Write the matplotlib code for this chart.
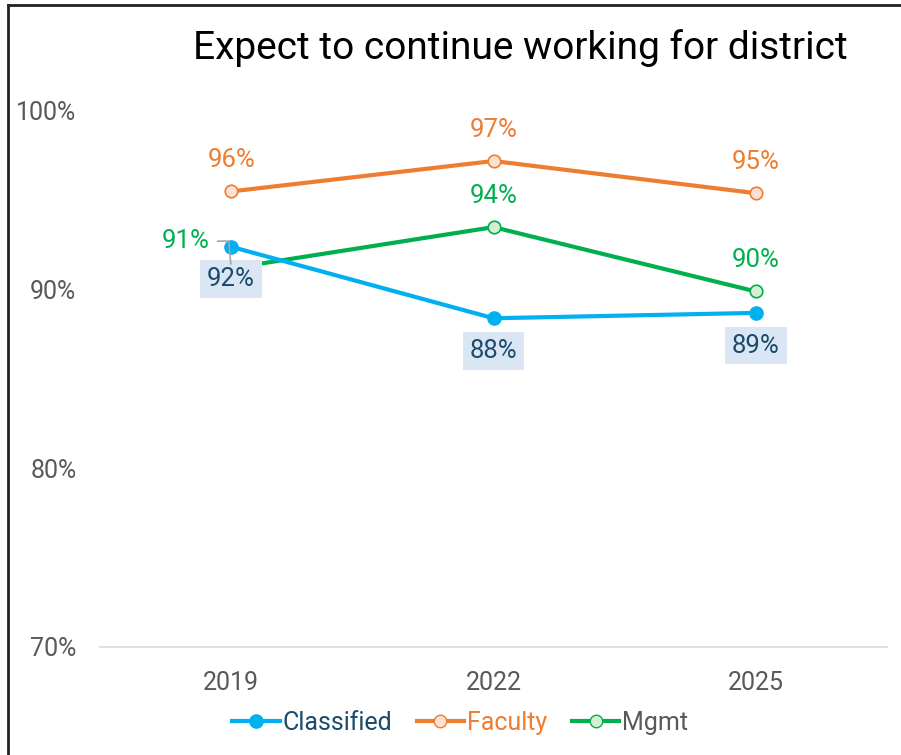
import matplotlib
matplotlib.use('Agg')
import matplotlib.pyplot as plt
from matplotlib.lines import Line2D

years = ['2019', '2022', '2025']
classified = [0.924, 0.884, 0.887]
faculty = [0.955, 0.972, 0.954]
mgmt = [0.912, 0.935, 0.899]

BLUE = '#00B0F0'
ORANGE = '#ED7D31'
GREEN = '#00B050'
DARK = '#1B4A6B'
GRAY = '#595959'

plt.rcParams['font.family'] = ['Roboto', 'DejaVu Sans']

fig = plt.figure(figsize=(9.01, 7.55), dpi=100)
ax = fig.add_axes([100 / 901, 1 - 647 / 755, 787 / 901, 536 / 755])

x = [i + 0.5 for i in range(len(years))]

ax.plot(x, mgmt, color=GREEN, lw=3, marker='o', ms=9, mfc='#D5F0D0',
        mec=GREEN, mew=1.2, zorder=2)
ax.plot(x, faculty, color=ORANGE, lw=3, marker='o', ms=9, mfc='#FBE1D3',
        mec=ORANGE, mew=1.2, zorder=3)
ax.plot(x, classified, color=BLUE, lw=3, marker='o', ms=9.5, mfc=BLUE,
        mec=BLUE, zorder=4)

LBL = 18.5

# data labels
for xi, v in zip(x, faculty):
    ax.annotate(f'{v * 100:.0f}%', (xi, v), xytext=(0, 22.5), textcoords='offset points',
                ha='center', va='center', fontsize=LBL, color=ORANGE, zorder=6)

for i, (xi, v) in enumerate(zip(x, mgmt)):
    if i == 0:
        ann = ax.annotate(f'{v * 100:.0f}%', (xi, v), xytext=(-33, 19.5),
                          textcoords='offset points', ha='center', va='center',
                          fontsize=LBL, color=GREEN, zorder=7,
                          arrowprops=dict(arrowstyle='-', color='#A6A6A6', lw=1.2,
                                          connectionstyle='angle,angleA=0,angleB=95,rad=0',
                                          shrinkA=4, shrinkB=-3))
        ann.arrow_patch.set_zorder(8)
    else:
        ax.annotate(f'{v * 100:.0f}%', (xi, v), xytext=(0, 22.5), textcoords='offset points',
                    ha='center', va='center', fontsize=LBL, color=GREEN, zorder=6)

for xi, v in zip(x, classified):
    ax.annotate(f'{v * 100:.0f}%', (xi, v), xytext=(0, -23.5), textcoords='offset points',
                ha='center', va='center', fontsize=LBL, color=DARK, zorder=5,
                bbox=dict(boxstyle='square,pad=0.27', fc='#DAE6F4', ec='none'))

ax.set_xlim(0, 3)
ax.set_ylim(0.70, 1.00)
ax.set_xticks(x)
ax.set_xticklabels(years)
ax.set_yticks([0.7, 0.8, 0.9, 1.0])
ax.set_yticklabels(['70%', '80%', '90%', '100%'])
ax.tick_params(axis='both', length=0, labelsize=18, labelcolor=GRAY)
ax.tick_params(axis='y', pad=17)
ax.tick_params(axis='x', pad=17)
for s in ['top', 'right', 'left']:
    ax.spines[s].set_visible(False)
ax.spines['bottom'].set_color('#D9D9D9')
ax.spines['bottom'].set_linewidth(1.2)

fig.text(520 / 901, 1 - 48 / 755, 'Expect to continue working for district',
         ha='center', va='center', fontsize=28, color='black')

handles = [
    Line2D([], [], color=BLUE, lw=3, marker='o', ms=9.5, mfc=BLUE, mec=BLUE),
    Line2D([], [], color=ORANGE, lw=3, marker='o', ms=9, mfc='#FBE1D3', mec=ORANGE),
    Line2D([], [], color=GREEN, lw=3, marker='o', ms=9, mfc='#D5F0D0', mec=GREEN),
]
leg = fig.legend(handles, ['Classified', 'Faculty', 'Mgmt'], loc='center',
                 bbox_to_anchor=(460 / 901, 1 - 723 / 755), ncol=3, frameon=False,
                 fontsize=18, handlelength=1.9, handletextpad=0.1, columnspacing=1.0)
for t, c in zip(leg.get_texts(), [DARK, ORANGE, GRAY]):
    t.set_color(c)

# outer border (top and left visible)
fig.add_artist(Line2D([8 / 901, 1], [1 - 5 / 755, 1 - 5 / 755], transform=fig.transFigure,
                      color='#222222', lw=2))
fig.add_artist(Line2D([8 / 901, 8 / 901], [1 - 5 / 755, 0], transform=fig.transFigure,
                      color='#222222', lw=2))

fig.savefig('out.png', dpi=100)
